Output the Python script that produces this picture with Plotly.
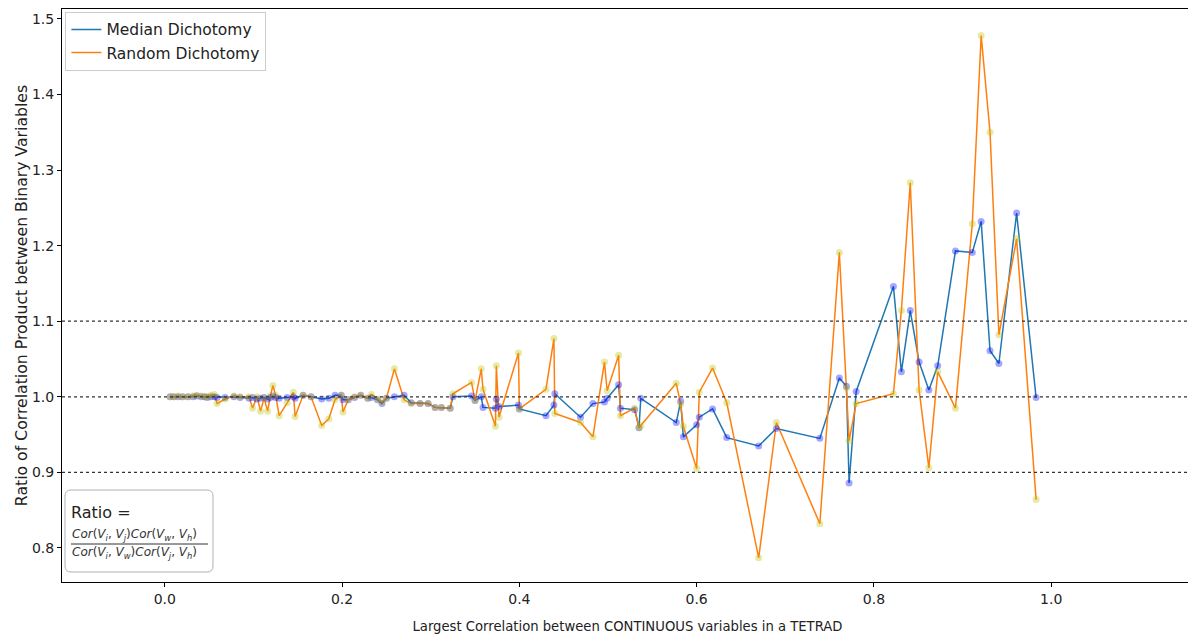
import plotly.graph_objects as go

# largest correlation between continuous variables in each tetrad
corr_max = [
    0.006, 0.010, 0.015, 0.020, 0.026, 0.032, 0.036, 0.041, 0.045, 0.048,
    0.052, 0.056, 0.059, 0.068, 0.078, 0.085, 0.095, 0.099, 0.104, 0.108,
    0.112, 0.116, 0.119, 0.122, 0.125, 0.129, 0.138, 0.145, 0.147, 0.156,
    0.165, 0.177, 0.185, 0.192, 0.199, 0.201, 0.207, 0.214, 0.221, 0.229,
    0.233, 0.240, 0.245, 0.250, 0.259, 0.270, 0.278, 0.288, 0.297, 0.305,
    0.312, 0.322, 0.325, 0.346, 0.350, 0.357, 0.359, 0.373, 0.374, 0.377,
    0.399, 0.400, 0.430, 0.439, 0.440, 0.469, 0.483, 0.496, 0.499, 0.512,
    0.514, 0.530, 0.535, 0.537, 0.577, 0.582, 0.585, 0.600, 0.603, 0.618,
    0.634, 0.670, 0.690, 0.739, 0.761, 0.769, 0.772, 0.780, 0.822, 0.831,
    0.841, 0.851, 0.862, 0.872, 0.892, 0.911, 0.921, 0.931, 0.941, 0.961,
    0.983,
]

# ratio with median dichotomy
ratio_median = [
    1.000, 1.000, 1.000, 1.000, 1.000, 1.000, 1.001, 1.000, 1.000, 0.999,
    1.000, 1.000, 0.999, 0.999, 1.000, 0.999, 0.998, 0.999, 0.997, 0.998,
    0.999, 0.997, 0.999, 1.001, 0.999, 0.998, 0.999, 1.000, 0.998, 1.002,
    1.000, 0.997, 0.998, 1.002, 1.002, 0.996, 0.996, 0.999, 1.002, 0.998,
    0.999, 0.996, 0.991, 0.998, 1.000, 1.002, 0.992, 0.991, 0.991, 0.986,
    0.986, 0.985, 1.000, 1.001, 0.995, 1.000, 0.986, 0.985, 0.997, 0.987,
    0.989, 0.984, 0.975, 0.989, 1.004, 0.973, 0.991, 0.993, 0.998, 1.016,
    0.985, 0.983, 0.959, 0.998, 0.966, 0.994, 0.947, 0.963, 0.973, 0.984,
    0.946, 0.935, 0.958, 0.945, 1.025, 1.014, 0.886, 1.007, 1.146, 1.033,
    1.114, 1.046, 1.009, 1.041, 1.193, 1.191, 1.232, 1.061, 1.044, 1.243,
    0.999,
]

# ratio with random dichotomy
ratio_random = [
    1.000, 1.000, 1.001, 1.000, 1.000, 1.001, 1.002, 1.001, 1.000, 1.000,
    1.002, 1.003, 0.991, 0.997, 1.001, 1.000, 1.000, 0.985, 1.000, 0.981,
    0.998, 0.981, 1.001, 1.015, 1.002, 0.975, 0.992, 1.006, 0.974, 1.002,
    1.000, 0.962, 0.971, 0.996, 1.002, 0.980, 0.996, 1.000, 1.002, 0.998,
    1.003, 0.997, 0.993, 0.998, 1.037, 0.996, 0.991, 0.991, 0.991, 0.986,
    0.986, 0.985, 1.004, 1.019, 0.995, 1.037, 1.010, 0.961, 1.041, 0.973,
    1.058, 0.984, 1.010, 1.077, 0.978, 0.966, 0.947, 1.046, 1.008, 1.055,
    0.975, 0.985, 0.959, 0.962, 1.018, 0.990, 0.961, 0.905, 1.006, 1.038,
    0.992, 0.787, 0.966, 0.832, 1.191, 1.012, 0.942, 0.991, 1.004, 1.114,
    1.283, 1.009, 0.906, 1.033, 0.985, 1.229, 1.478, 1.350, 1.082, 1.209,
    0.864,
]

ref_levels = [0.9, 1.0, 1.1]

# the page puts the figure 8px in from the window corner
OFF = 8
W, H = 1188, 628
ML, MR, MT, MB = 54, 3, 1, 54
PW, PH = W - ML - MR, H - MT - MB


def px(xp):
    # window x pixel -> paper x
    return (xp - OFF - ML) / PW


def py(yp):
    # window y pixel -> paper y
    return (OFF + H - MB - yp) / PH


fig = go.Figure()

fig.add_trace(go.Scatter(x=corr_max, y=ratio_median, mode="lines", name="Median Dichotomy",
                         line=dict(color="#1f77b4", width=1.5)))
fig.add_trace(go.Scatter(x=corr_max, y=ratio_random, mode="lines", name="Random Dichotomy",
                         line=dict(color="#ff7f0e", width=1.5)))
fig.add_trace(go.Scatter(x=corr_max, y=ratio_median, mode="markers", showlegend=False,
                         marker=dict(color="rgba(0,0,255,0.35)", size=7, line=dict(width=0))))
fig.add_trace(go.Scatter(x=corr_max, y=ratio_random, mode="markers", showlegend=False,
                         marker=dict(color="rgba(191,191,0,0.35)", size=7, line=dict(width=0))))

for lv in ref_levels:
    fig.add_shape(type="line", xref="paper", yref="y", x0=0, x1=1, y0=lv, y1=lv,
                  line=dict(color="#333333", width=1.2, dash="dot"))

# formula box, bottom left
bx0, bx1, by0, by1, r = px(65), px(213), py(572), py(490), 6
rx, ry = r / PW, r / PH
path = (f"M {bx0 + rx} {by0} L {bx1 - rx} {by0} Q {bx1} {by0} {bx1} {by0 + ry} "
        f"L {bx1} {by1 - ry} Q {bx1} {by1} {bx1 - rx} {by1} L {bx0 + rx} {by1} "
        f"Q {bx0} {by1} {bx0} {by1 - ry} L {bx0} {by0 + ry} Q {bx0} {by0} {bx0 + rx} {by0} Z")
fig.add_shape(type="path", xref="paper", yref="paper", path=path,
              line=dict(color="#b0b0b0", width=1), fillcolor="rgba(255,255,255,0.85)")
fig.add_shape(type="line", xref="paper", yref="paper", x0=px(71), x1=px(208), y0=py(544), y1=py(544),
              line=dict(color="#333333", width=1))

fig.add_annotation(xref="paper", yref="paper", x=px(69), y=py(512), xanchor="left", yanchor="middle",
                   text="Ratio =", showarrow=False, font=dict(size=16, color="#222222"))
fig.add_annotation(xref="paper", yref="paper", x=px(70), y=py(535), xanchor="left", yanchor="middle",
                   text="<i>Cor</i>(<i>V<sub>i</sub></i>, <i>V<sub>j</sub></i>)<i>Cor</i>(<i>V<sub>w</sub></i>, <i>V<sub>h</sub></i>)",
                   showarrow=False, font=dict(size=12, color="#333333"))
fig.add_annotation(xref="paper", yref="paper", x=px(70), y=py(553), xanchor="left", yanchor="middle",
                   text="<i>Cor</i>(<i>V<sub>i</sub></i>, <i>V<sub>w</sub></i>)<i>Cor</i>(<i>V<sub>j</sub></i>, <i>V<sub>h</sub></i>)",
                   showarrow=False, font=dict(size=12, color="#333333"))

axis_style = dict(showline=True, linecolor="black", linewidth=1, mirror=True, ticks="outside",
                  ticklen=4, tickcolor="black", showgrid=False, zeroline=False, automargin=False,
                  tickfont=dict(size=14, color="#222222"))

fig.update_layout(
    width=W, height=H,
    margin=dict(l=ML, r=MR, t=MT, b=MB),
    paper_bgcolor="white", plot_bgcolor="white",
    font=dict(family="DejaVu Sans", color="#222222"),
    legend=dict(x=0.003, y=0.995, xanchor="left", yanchor="top", bgcolor="rgba(255,255,255,0.85)",
                bordercolor="#cccccc", borderwidth=1, font=dict(size=15.5)),
    xaxis=dict(range=[-0.116, 1.16], tickvals=[0.0, 0.2, 0.4, 0.6, 0.8, 1.0],
               ticktext=["0.0", "0.2", "0.4", "0.6", "0.8", "1.0"],
               title=dict(text="Largest Correlation between CONTINUOUS variables in a TETRAD",
                          font=dict(size=13.2), standoff=15), **axis_style),
    yaxis=dict(range=[0.755, 1.513], tickvals=[0.8, 0.9, 1.0, 1.1, 1.2, 1.3, 1.4, 1.5],
               ticktext=["0.8", "0.9", "1.0", "1.1", "1.2", "1.3", "1.4", "1.5"],
               title=dict(text="Ratio of Correlation Product between Binary Variables",
                          font=dict(size=15.7), standoff=0), **axis_style),
)

fig.write_html("out.html")
